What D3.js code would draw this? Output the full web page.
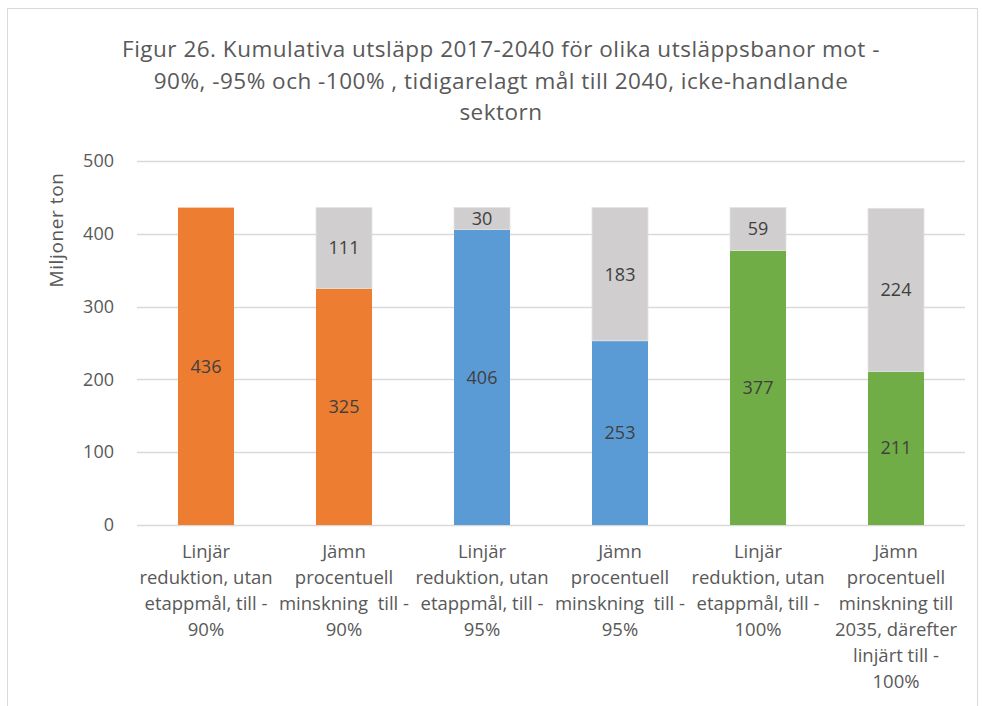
<!DOCTYPE html>
<html>
<head>
<meta charset="utf-8">
<script src="https://cdn.jsdelivr.net/npm/d3@7"></script>
<style>
  body { margin: 0; background: #fff; }
  text { font-family: "Open Sans", Lato, sans-serif; }
</style>
</head>
<body>
<div id="chart"></div>
<script>
var categories = [
  ["Linjär", "reduktion, utan", "etappmål, till -", "90%"],
  ["Jämn", "procentuell", "minskning  till -", "90%"],
  ["Linjär", "reduktion, utan", "etappmål, till -", "95%"],
  ["Jämn", "procentuell", "minskning  till -", "95%"],
  ["Linjär", "reduktion, utan", "etappmål, till -", "100%"],
  ["Jämn", "procentuell", "minskning till", "2035, därefter", "linjärt till -", "100%"]
];
var utslapp = [436, 325, 406, 253, 377, 211];
var rest = [0, 111, 30, 183, 59, 224];
var barColors = ["#ED7D31", "#ED7D31", "#5B9BD5", "#5B9BD5", "#70AD47", "#70AD47"];
var yTicks = [0, 100, 200, 300, 400, 500];
var titleLines = [
  "Figur 26. Kumulativa utsläpp 2017-2040 för olika utsläppsbanor mot -",
  "90%, -95% och -100% , tidigarelagt mål till 2040, icke-handlande",
  "sektorn"
];

var W = 982, H = 706;
var margin = {top: 161, right: 17, bottom: 181, left: 137},
    width = W - margin.left - margin.right,
    height = H - margin.top - margin.bottom;

var svg = d3.select("#chart").append("svg")
    .attr("width", W)
    .attr("height", H);

// chart border
svg.append("rect")
    .attr("x", 7.5).attr("y", 8.5)
    .attr("width", 970).attr("height", 720)
    .attr("fill", "none")
    .attr("stroke", "#D9D9D9");

svg.append("g").selectAll("text")
    .data(titleLines)
  .enter().append("text")
    .attr("x", 501)
    .attr("y", function(d, i) { return 57 + i * 31.5; })
    .attr("text-anchor", "middle")
    .attr("font-size", "22.5px")
    .attr("letter-spacing", "0.5px")
    .attr("fill", "#595959")
    .text(function(d) { return d; });

var g = svg.append("g")
    .attr("transform", "translate(" + margin.left + "," + margin.top + ")");

var x = d3.scaleBand()
    .domain(d3.range(categories.length))
    .range([0, width])
    .paddingInner(0.594)
    .paddingOuter(0.297);

var y = d3.scaleLinear()
    .domain([0, 500])
    .range([height, 0]);

// gridlines
g.append("g").selectAll("line")
    .data(yTicks)
  .enter().append("line")
    .attr("x1", 0).attr("x2", width)
    .attr("y1", function(d) { return Math.round(y(d)) + 0.5; })
    .attr("y2", function(d) { return Math.round(y(d)) + 0.5; })
    .attr("stroke", "#D9D9D9")
    .attr("stroke-width", 1.3);

var yAxis = d3.axisLeft(y).tickValues(yTicks).tickSize(0).tickPadding(23);
g.append("g")
    .call(yAxis)
    .call(function(s) { s.select(".domain").remove(); })
    .selectAll("text")
    .attr("font-size", "18px")
    .attr("fill", "#595959")
    .style("font-family", "'Open Sans', Lato, sans-serif");

svg.append("text")
    .attr("transform", "translate(63,230) rotate(-90)")
    .attr("text-anchor", "middle")
    .attr("font-size", "19px")
    .attr("letter-spacing", "0.6px")
    .attr("fill", "#595959")
    .text("Miljoner ton");

// base bars
g.append("g").selectAll("rect")
    .data(utslapp)
  .enter().append("rect")
    .attr("x", function(d, i) { return x(i); })
    .attr("y", function(d) { return y(d); })
    .attr("width", x.bandwidth())
    .attr("height", function(d) { return height - y(d); })
    .attr("fill", function(d, i) { return barColors[i]; });

// remainder bars
g.append("g").selectAll("rect")
    .data(rest)
  .enter().append("rect")
    .attr("x", function(d, i) { return x(i); })
    .attr("y", function(d, i) { return y(utslapp[i] + d); })
    .attr("width", x.bandwidth())
    .attr("height", function(d, i) { return y(utslapp[i]) - y(utslapp[i] + d); })
    .attr("fill", "#D0CECE")
    .attr("stroke", "#E4E2E2")
    .attr("stroke-width", 0.8);

// labels
g.append("g").selectAll("text")
    .data(utslapp)
  .enter().append("text")
    .attr("x", function(d, i) { return x(i) + x.bandwidth() / 2; })
    .attr("y", function(d) { return (y(d) + y(0)) / 2; })
    .attr("dy", "0.35em")
    .attr("text-anchor", "middle")
    .attr("font-size", "18px")
    .attr("fill", "#404040")
    .text(function(d) { return d; });

g.append("g").selectAll("text")
    .data(rest)
  .enter().append("text")
    .attr("x", function(d, i) { return x(i) + x.bandwidth() / 2; })
    .attr("y", function(d, i) { return (y(utslapp[i]) + y(utslapp[i] + d)) / 2; })
    .attr("dy", "0.35em")
    .attr("text-anchor", "middle")
    .attr("font-size", "18px")
    .attr("fill", "#404040")
    .text(function(d) { return d > 0 ? d : ""; });

// category labels
var cat = g.append("g").selectAll("text")
    .data(categories)
  .enter().append("text")
    .attr("text-anchor", "middle")
    .attr("font-size", "18.5px")
    .attr("fill", "#595959")
    .style("white-space", "pre");
cat.selectAll("tspan")
    .data(function(d, i) { return d.map(function(t) { return {t: t, i: i}; }); })
  .enter().append("tspan")
    .attr("x", function(d) { return x(d.i) + x.bandwidth() / 2; })
    .attr("y", function(d, j) { return height + 33 + j * 26; })
    .text(function(d) { return d.t; });
</script>
</body>
</html>
